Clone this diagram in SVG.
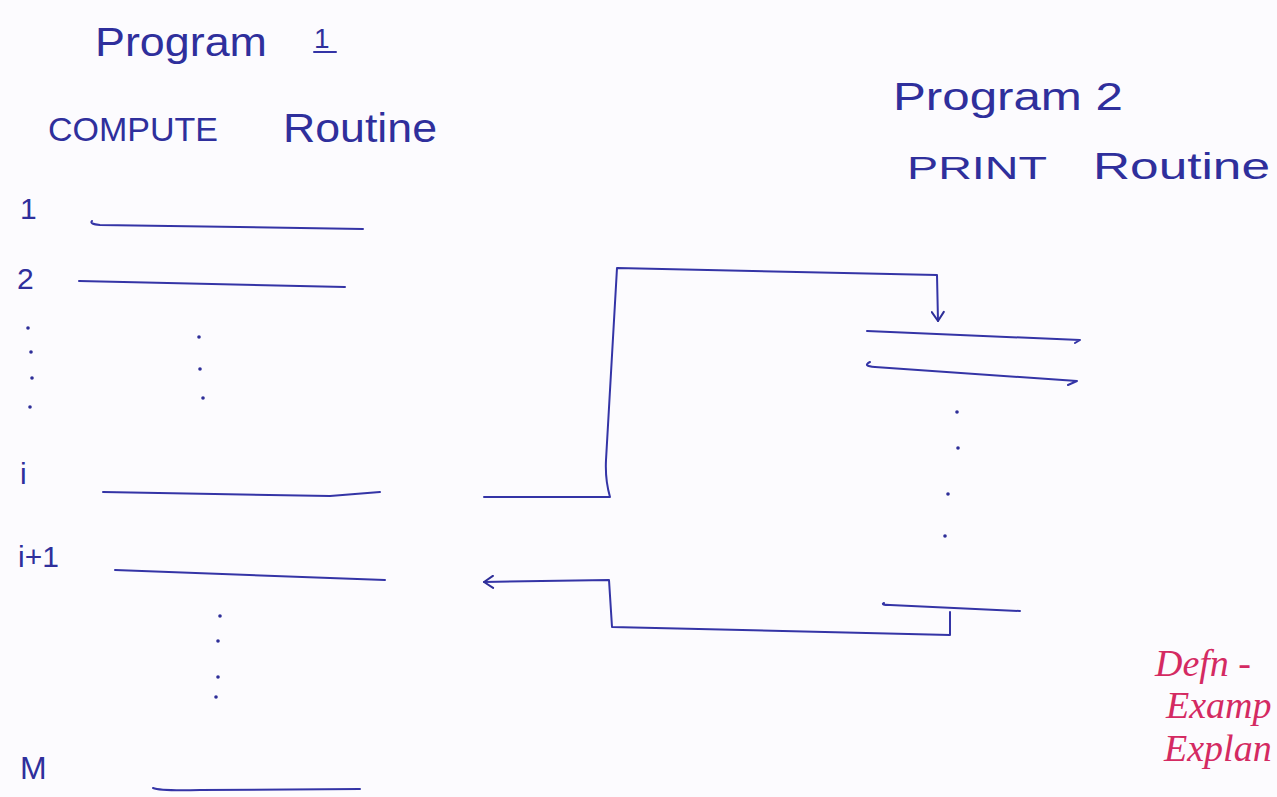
<svg xmlns="http://www.w3.org/2000/svg" width="1277" height="797" viewBox="0 0 1277 797">
  <style>
    .ink { fill: none; stroke: #3434a6; stroke-width: 2; stroke-linecap: round; stroke-linejoin: round; }
    .dot { fill: #2e2e98; }
    .hand { font-family: "Liberation Sans", "DejaVu Sans", sans-serif; fill: #2f2f9c; }
    .note { font-family: "Liberation Serif", "DejaVu Serif", serif; font-style: italic; fill: #d42a62; }
  </style>
  <defs>
    <!-- open chevron head, pointing along the line direction -->
    <marker id="arrow" viewBox="0 0 14 14" refX="12" refY="7" markerWidth="14" markerHeight="14" markerUnits="userSpaceOnUse" orient="auto">
      <path d="M3,1 L12,7 L3,13" fill="none" stroke="#2e2e98" stroke-width="2" stroke-linecap="round" stroke-linejoin="round"/>
    </marker>
  </defs>

  <rect width="1277" height="797" fill="#fcfbfe"/>

  <!-- Program 1 heading -->
  <g id="program1-title">
    <text class="hand" x="95" y="56" font-size="40" textLength="172" lengthAdjust="spacingAndGlyphs">Program</text>
    <text class="hand" x="314" y="48" font-size="28">1</text>
    <line class="ink" x1="314" y1="52" x2="336" y2="52"/>
    <text class="hand" x="48" y="141" font-size="34" textLength="170" lengthAdjust="spacingAndGlyphs">COMPUTE</text>
    <text class="hand" x="283" y="142" font-size="40" textLength="154" lengthAdjust="spacingAndGlyphs">Routine</text>
  </g>

  <!-- Program 2 heading -->
  <g id="program2-title">
    <text class="hand" x="893" y="110" font-size="38" textLength="230" lengthAdjust="spacingAndGlyphs">Program 2</text>
    <text class="hand" x="907" y="179" font-size="31" textLength="140" lengthAdjust="spacingAndGlyphs">PRINT</text>
    <text class="hand" x="1093" y="179" font-size="36" textLength="177" lengthAdjust="spacingAndGlyphs">Routine</text>
  </g>

  <!-- COMPUTE routine: numbered instructions -->
  <g id="compute-routine">
    <text class="hand" x="20" y="219" font-size="30">1</text>
    <text class="hand" x="17" y="289" font-size="30">2</text>
    <text class="hand" x="20" y="484" font-size="30">i</text>
    <text class="hand" x="18" y="567" font-size="30">i+1</text>
    <text class="hand" x="20" y="779" font-size="32">M</text>

    <path class="ink" d="M92,221 Q89,224 100,225 L363,229"/>
    <path class="ink" d="M79,281 L345,287"/>
    <path class="ink" d="M103,492 L330,496 L380,492"/>
    <path class="ink" d="M115,570 L385,580"/>
    <path class="ink" d="M153,788 Q160,791 200,790 L360,789" stroke-width="2.6"/>

    <circle class="dot" cx="28" cy="328" r="1.8"/>
    <circle class="dot" cx="31" cy="352" r="1.8"/>
    <circle class="dot" cx="32" cy="378" r="1.8"/>
    <circle class="dot" cx="30" cy="407" r="1.8"/>

    <circle class="dot" cx="199" cy="337" r="1.8"/>
    <circle class="dot" cx="200" cy="369" r="1.8"/>
    <circle class="dot" cx="203" cy="398" r="1.8"/>

    <circle class="dot" cx="220" cy="616" r="1.8"/>
    <circle class="dot" cx="218" cy="641" r="1.8"/>
    <circle class="dot" cx="218" cy="677" r="1.8"/>
    <circle class="dot" cx="216" cy="697" r="1.8"/>
  </g>

  <!-- PRINT routine: instructions -->
  <g id="print-routine">
    <path class="ink" d="M867,331 L1080,340 L1075,343"/>
    <path class="ink" d="M870,362 Q862,366 875,367 L1077,381 L1068,385"/>
    <path class="ink" d="M884,603 Q880,605 890,605 L1020,611"/>

    <circle class="dot" cx="957" cy="412" r="1.8"/>
    <circle class="dot" cx="958" cy="448" r="1.8"/>
    <circle class="dot" cx="948" cy="494" r="1.8"/>
    <circle class="dot" cx="945" cy="536" r="1.8"/>
  </g>

  <!-- Control transfer: call and return -->
  <g id="connectors">
    <path class="ink" d="M484,497 L610,497 Q605,480 606,460 L617,268 L937,275 L938,321" marker-end="url(#arrow)"/>
    <path class="ink" d="M950,612 L950,635 L612,627 L609,580 L484,582" marker-end="url(#arrow)"/>
  </g>

  <!-- Margin notes -->
  <g id="margin-notes">
    <text class="note" x="1155" y="676" font-size="38">Defn -</text>
    <text class="note" x="1166" y="718" font-size="38">Examp</text>
    <text class="note" x="1164" y="761" font-size="38">Explan</text>
  </g>
</svg>
